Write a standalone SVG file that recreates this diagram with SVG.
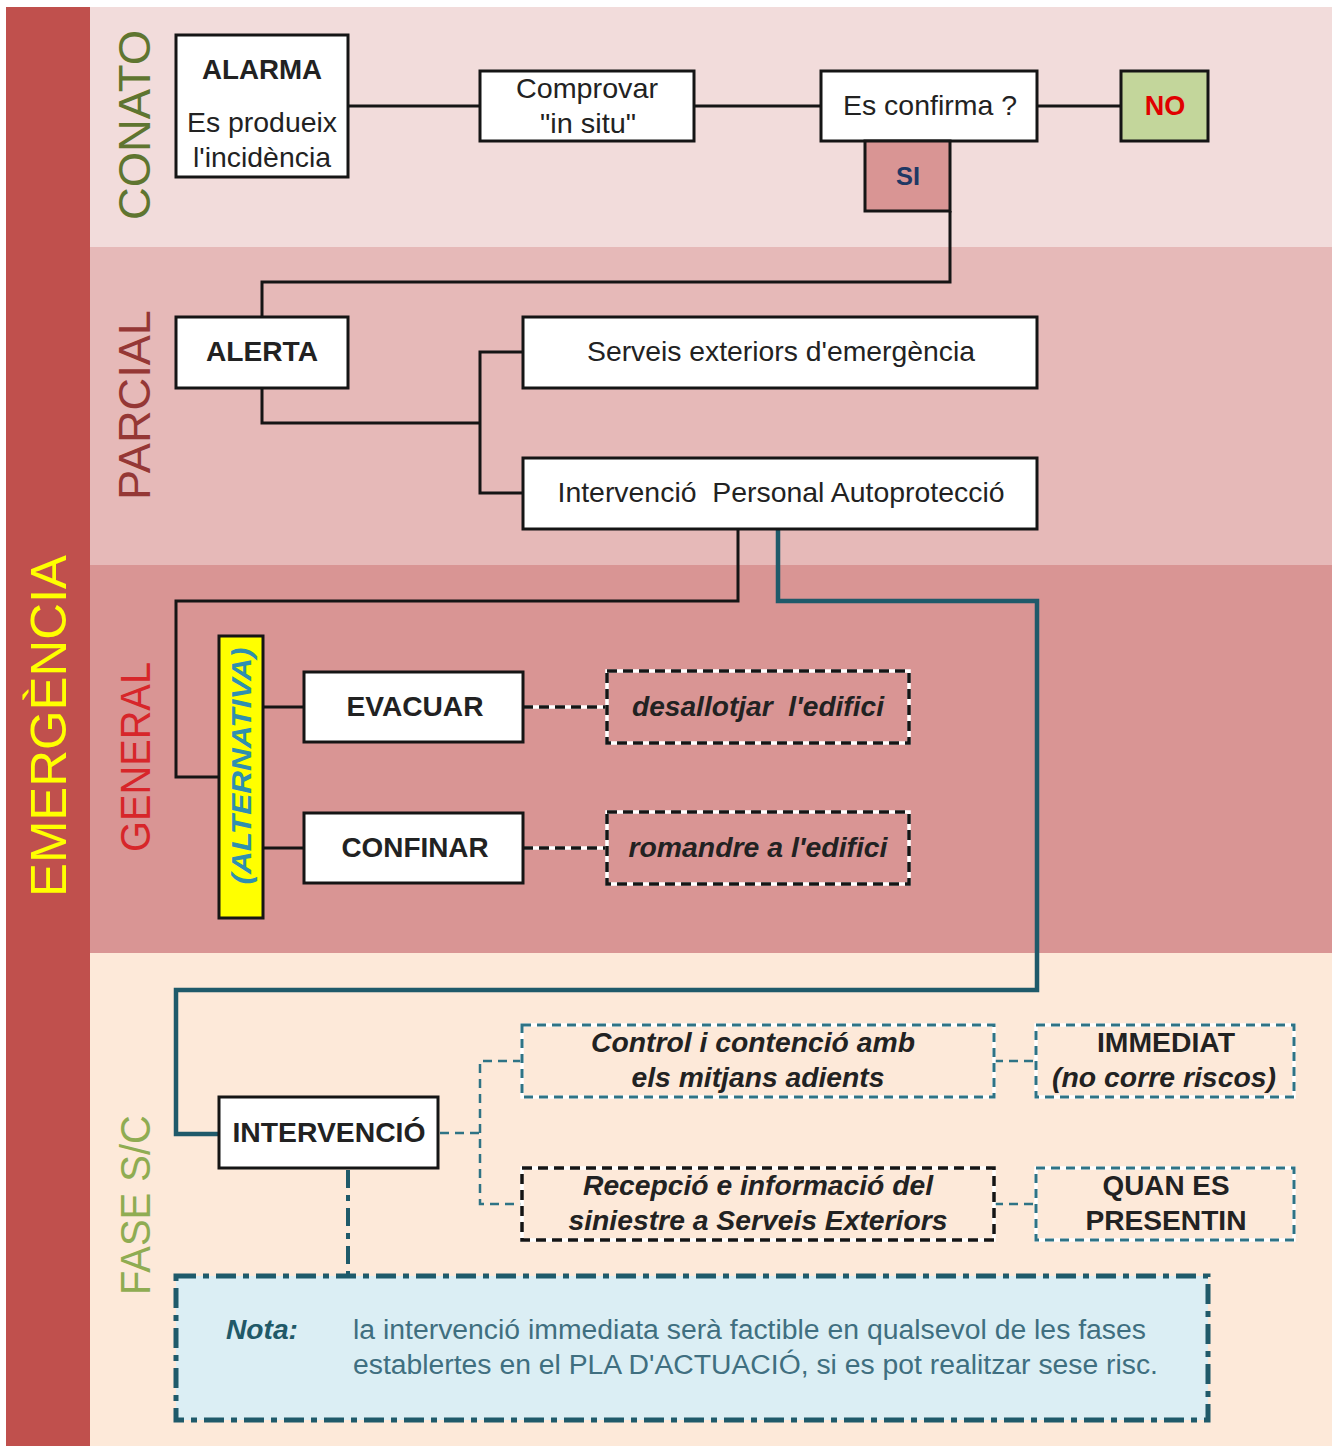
<svg xmlns="http://www.w3.org/2000/svg" width="1339" height="1446" viewBox="0 0 1339 1446">
<style>
text{font-family:"Liberation Sans",Arial,sans-serif;white-space:pre;}
.box{fill:#ffffff;stroke:#151515;stroke-width:3;}
.b{font-weight:bold;}
.bi{font-weight:bold;font-style:italic;}
.t{font-size:28px;fill:#222;text-anchor:middle;}
.side{text-anchor:middle;font-size:44px;}
.ln{fill:none;stroke:#151515;stroke-width:3;}
.teal{fill:none;stroke:#1f5a6a;stroke-width:4.5;}
.under{fill:none;stroke:#ffffff;stroke-width:3.5;}
.dk{fill:none;stroke:#151515;stroke-width:3.5;stroke-dasharray:10 6;}
.dt{fill:none;stroke:#2e7385;stroke-width:3;stroke-dasharray:9 6;}
.dtl{fill:none;stroke:#2e7385;stroke-width:2.5;stroke-dasharray:9 6;}
</style>
<rect x="0" y="0" width="1339" height="1446" fill="#ffffff"/>
<g id="bands">
<rect x="90" y="7" width="1242" height="240" fill="#f2dcdb"/>
<rect x="90" y="247" width="1242" height="318" fill="#e6b9b8"/>
<rect x="90" y="565" width="1242" height="388" fill="#d99594"/>
<rect x="90" y="953" width="1242" height="493" fill="#fde9d9"/>
<rect x="6" y="7" width="84" height="1439" fill="#c0504d"/>
<text class="side" transform="translate(66,726) rotate(-90)" style="font-size:50px" fill="#ffff00" textLength="342" lengthAdjust="spacingAndGlyphs">EMERGÈNCIA</text>
<text class="side" transform="translate(150,125) rotate(-90)" fill="#5f7530" textLength="190" lengthAdjust="spacingAndGlyphs">CONATO</text>
<text class="side" transform="translate(150,405) rotate(-90)" fill="#953735" textLength="190" lengthAdjust="spacingAndGlyphs">PARCIAL</text>
<text class="side" transform="translate(150,757) rotate(-90)" style="font-size:42px" fill="#d7262a" textLength="190" lengthAdjust="spacingAndGlyphs">GENERAL</text>
<text class="side" transform="translate(150,1205) rotate(-90)" style="font-size:42px" fill="#8fac52" textLength="180" lengthAdjust="spacingAndGlyphs">FASE S/C</text>
</g>
<g id="connectors">
<line class="ln" x1="348" y1="106" x2="480" y2="106"/>
<line class="ln" x1="694" y1="106" x2="821" y2="106"/>
<line class="ln" x1="1037" y1="106" x2="1121" y2="106"/>
<polyline class="ln" points="950,211 950,282 262,282 262,317"/>
<polyline class="ln" points="262,388 262,423 480,423"/>
<polyline class="ln" points="523,352 480,352 480,493 523,493"/>
<polyline class="ln" points="738,529 738,601 176,601 176,777 219,777"/>
<line class="ln" x1="263" y1="707" x2="304" y2="707"/>
<line class="ln" x1="263" y1="848" x2="304" y2="848"/>
<line class="under" x1="523" y1="707" x2="607" y2="707"/>
<line class="dk" x1="523" y1="707" x2="607" y2="707"/>
<line class="under" x1="523" y1="848" x2="607" y2="848"/>
<line class="dk" x1="523" y1="848" x2="607" y2="848"/>
<polyline class="teal" points="778,529 778,601 1037,601 1037,990 176,990 176,1134 219,1134"/>
<line class="dtl" x1="440" y1="1133" x2="480" y2="1133"/>
<polyline class="dtl" points="522,1061 480,1061 480,1204 522,1204"/>
<line class="dtl" x1="994" y1="1061" x2="1036" y2="1061"/>
<line class="dtl" x1="994" y1="1204" x2="1036" y2="1204"/>
<line x1="348" y1="1170" x2="348" y2="1276" stroke="#1f5a6a" stroke-width="4" stroke-dasharray="18 7 6 7"/>
</g>
<g id="alarma">
<rect class="box" x="176" y="35" width="172" height="142"/>
<text class="t b" x="262" y="79" textLength="120" lengthAdjust="spacingAndGlyphs">ALARMA</text>
<text class="t" x="262" y="132" textLength="150" lengthAdjust="spacingAndGlyphs">Es produeix</text>
<text class="t" x="262" y="167" textLength="138" lengthAdjust="spacingAndGlyphs">l'incidència</text>
</g>
<g id="comprovar">
<rect class="box" x="480" y="71" width="214" height="70"/>
<text class="t" x="587" y="98" textLength="142" lengthAdjust="spacingAndGlyphs">Comprovar</text>
<text class="t" x="588" y="133" textLength="96" lengthAdjust="spacingAndGlyphs">"in situ"</text>
</g>
<g id="confirma">
<rect class="box" x="821" y="71" width="216" height="70"/>
<text class="t" x="930" y="115" textLength="174" lengthAdjust="spacingAndGlyphs">Es confirma ?</text>
</g>
<g id="no">
<rect x="1121" y="71" width="87" height="70" fill="#c3d69b" stroke="#151515" stroke-width="3"/>
<text class="t b" x="1165" y="115" style="fill:#e00000;font-size:27px">NO</text>
</g>
<g id="si">
<rect x="865" y="141" width="85" height="70" fill="#d99594" stroke="#151515" stroke-width="3"/>
<text class="t b" x="908" y="185" style="fill:#1f3864;font-size:25px" textLength="24" lengthAdjust="spacingAndGlyphs">SI</text>
</g>
<g id="alerta">
<rect class="box" x="176" y="317" width="172" height="71"/>
<text class="t b" x="262" y="361" textLength="112" lengthAdjust="spacingAndGlyphs">ALERTA</text>
</g>
<g id="serveis">
<rect class="box" x="523" y="317" width="514" height="71"/>
<text class="t" x="781" y="361" textLength="388" lengthAdjust="spacingAndGlyphs">Serveis exteriors d'emergència</text>
</g>
<g id="intervencio-personal">
<rect class="box" x="523" y="458" width="514" height="71"/>
<text class="t" x="781" y="502" textLength="447" lengthAdjust="spacingAndGlyphs">Intervenció  Personal Autoprotecció</text>
</g>
<g id="alternativa">
<rect x="219" y="636" width="44" height="282" fill="#ffff00" stroke="#151515" stroke-width="3"/>
<text class="t bi" transform="translate(251,766) rotate(-90)" textLength="237" lengthAdjust="spacingAndGlyphs" style="fill:#2f8fb0;font-size:28px">(ALTERNATIVA)</text>
</g>
<g id="evacuar">
<rect class="box" x="304" y="672" width="219" height="70"/>
<text class="t b" x="415" y="716" textLength="137" lengthAdjust="spacingAndGlyphs">EVACUAR</text>
</g>
<g id="confinar">
<rect class="box" x="304" y="813" width="219" height="70"/>
<text class="t b" x="415" y="857" textLength="147" lengthAdjust="spacingAndGlyphs">CONFINAR</text>
</g>
<g id="desallotjar">
<rect class="under" x="607" y="671" width="302" height="72"/>
<rect class="dk" x="607" y="671" width="302" height="72"/>
<text class="t bi" x="758" y="716" textLength="252" lengthAdjust="spacingAndGlyphs">desallotjar  l'edifici</text>
</g>
<g id="romandre">
<rect class="under" x="607" y="812" width="302" height="72"/>
<rect class="dk" x="607" y="812" width="302" height="72"/>
<text class="t bi" x="758" y="857" textLength="259" lengthAdjust="spacingAndGlyphs">romandre a l'edifici</text>
</g>
<g id="intervencio">
<rect class="box" x="219" y="1097" width="219" height="71"/>
<text class="t b" x="329" y="1142" textLength="193" lengthAdjust="spacingAndGlyphs">INTERVENCIÓ</text>
</g>
<g id="control">
<rect class="under" x="522" y="1025" width="472" height="72"/>
<rect class="dt" x="522" y="1025" width="472" height="72"/>
<text class="t bi" x="753" y="1052" textLength="324" lengthAdjust="spacingAndGlyphs">Control i contenció amb</text>
<text class="t bi" x="758" y="1087" textLength="253" lengthAdjust="spacingAndGlyphs">els mitjans adients</text>
</g>
<g id="immediat">
<rect class="under" x="1036" y="1025" width="258" height="72"/>
<rect class="dt" x="1036" y="1025" width="258" height="72"/>
<text class="t b" x="1166" y="1052" textLength="138" lengthAdjust="spacingAndGlyphs">IMMEDIAT</text>
<text class="t bi" x="1164" y="1087" textLength="224" lengthAdjust="spacingAndGlyphs">(no corre riscos)</text>
</g>
<g id="recepcio">
<rect class="under" x="522" y="1168" width="472" height="72"/>
<rect class="dk" x="522" y="1168" width="472" height="72"/>
<text class="t bi" x="758" y="1195" textLength="350" lengthAdjust="spacingAndGlyphs">Recepció e informació del</text>
<text class="t bi" x="758" y="1230" textLength="379" lengthAdjust="spacingAndGlyphs">siniestre a Serveis Exteriors</text>
</g>
<g id="quan">
<rect class="under" x="1036" y="1168" width="258" height="72"/>
<rect class="dt" x="1036" y="1168" width="258" height="72"/>
<text class="t b" x="1166" y="1195" textLength="127" lengthAdjust="spacingAndGlyphs">QUAN ES</text>
<text class="t b" x="1166" y="1230" textLength="161" lengthAdjust="spacingAndGlyphs">PRESENTIN</text>
</g>
<g id="nota">
<rect x="176" y="1276" width="1032" height="144" fill="#dbeef4" stroke="#1f5a6a" stroke-width="5" stroke-dasharray="20 7 6 7"/>
<text class="bi" x="226" y="1339" textLength="72" lengthAdjust="spacingAndGlyphs" style="font-size:27px;fill:#215968">Nota:</text>
<text x="353" y="1339" textLength="793" lengthAdjust="spacingAndGlyphs" style="font-size:27px;fill:#3f6f80">la intervenció immediata serà factible en qualsevol de les fases</text>
<text x="353" y="1374" textLength="805" lengthAdjust="spacingAndGlyphs" style="font-size:27px;fill:#3f6f80">establertes en el PLA D'ACTUACIÓ, si es pot realitzar sese risc.</text>
</g>
</svg>
